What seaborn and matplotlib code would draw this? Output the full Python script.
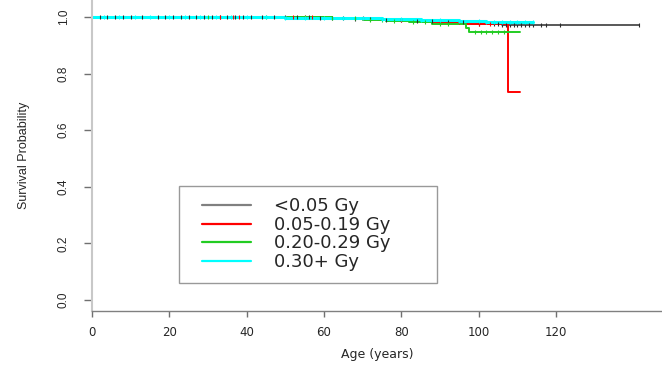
import numpy as np
import pandas as pd
import matplotlib
matplotlib.use("Agg")
import matplotlib.pyplot as plt
import seaborn as sns
from matplotlib.patches import Rectangle

# ---------------- data ----------------
groups = ["<0.05 Gy", "0.05-0.19 Gy", "0.20-0.29 Gy", "0.30+ Gy"]
colors = ["#2b2b2b", "#ff0000", "#22cc22", "#00ffff"]

# step curves: times (start, events..., end) and survival after each time
black_t = [0, 58, 66, 74, 82, 90, 98, 106, 141.5]
black_s = [1.0, 0.997, 0.994, 0.990, 0.986, 0.981, 0.977, 0.973, 0.973]
red_t = [0, 60, 75, 88, 97, 107.6, 110.7]
red_s = [1.0, 0.996, 0.990, 0.982, 0.974, 0.734, 0.734]
green_t = [0, 62, 70, 76, 82, 88, 96.8, 97.6, 110.7]
green_s = [1.0, 0.996, 0.990, 0.985, 0.981, 0.977, 0.962, 0.946, 0.946]
cyan_t = [0, 50, 65, 75, 85, 95, 102, 114]
cyan_s = [1.0, 0.998, 0.995, 0.992, 0.989, 0.986, 0.984, 0.984]

# censoring times
black_c = [2, 4, 6, 8, 10, 13, 17, 19, 21, 23, 25, 27, 29, 31, 33, 35, 37, 39,
           41, 44, 47, 50, 53, 56, 59, 62, 65, 68, 72, 76, 80, 84, 88, 92, 96,
           100, 104, 105, 106, 107, 108, 109, 110, 111, 112, 113, 114, 116,
           117.5, 121, 141.5]
red_c = [33, 36.5, 38, 52, 55, 57, 70, 80, 90, 95, 100, 103]
green_c = [30, 45, 55, 62, 68, 72, 75, 78, 83, 86, 90, 92,
           99, 100.5, 102, 103.5, 105, 106.5]
cyan_c = [3, 7, 11, 15, 20, 24, 28, 32, 36, 40, 45, 50, 55, 60, 65, 70, 75,
          80, 85, 90, 95, 100, 102, 104, 106, 108, 110, 112, 114]

x_ticks = [0, 20, 40, 60, 80, 100, 120]
y_ticks = [0.0, 0.2, 0.4, 0.6, 0.8, 1.0]

curves = [(black_t, black_s, black_c), (red_t, red_s, red_c),
          (green_t, green_s, green_c), (cyan_t, cyan_s, cyan_c)]

rows, crows = [], []
for g, (t, s, c) in zip(groups, curves):
    for ti, si in zip(t, s):
        rows.append({"age": ti, "surv": si, "group": g})
    t_arr, s_arr = np.array(t), np.array(s)
    for ci in c:
        idx = np.searchsorted(t_arr, ci, side="right") - 1
        crows.append({"age": ci, "surv": s_arr[idx], "group": g})
df = pd.DataFrame(rows)
cdf = pd.DataFrame(crows)

# ---------------- plot ----------------
sns.set_style("white")
plt.rcParams["font.family"] = ["DejaVu Sans"]
narrow = ["Liberation Sans Narrow", "Liberation Sans", "DejaVu Sans"]

fig = plt.figure(figsize=(6.62, 3.66), dpi=100)
ax = fig.add_axes([92 / 662, 55 / 366, 570 / 662, 311 / 366])

widths = [1.1, 1.4, 1.4, 2.2]
for g, col, lw in zip(groups, colors, widths):
    sub = df[df.group == g]
    sns.lineplot(data=sub, x="age", y="surv", ax=ax, color=col, lw=lw,
                 estimator=None, sort=False, drawstyle="steps-post", label=g)
    csub = cdf[cdf.group == g]
    ax.scatter(csub.age, csub.surv, marker="|", s=6, color=col,
               linewidths=0.8, zorder=3)

ax.set_xlim(0, 570 / 3.867)
ax.set_ylim(-11 / 283, 300 / 283)
ax.set_xticks(x_ticks)
ax.set_yticks(y_ticks)
ax.set_xticklabels([str(v) for v in x_ticks], fontsize=8.5)
ax.set_yticklabels([f"{v:.1f}" for v in y_ticks], family=narrow, fontsize=8.5,
                   rotation=90, va="center")

for sp in ["top", "right"]:
    ax.spines[sp].set_visible(False)
ax.spines["left"].set_color("#c8c8c8")
ax.spines["left"].set_linewidth(1.5)
ax.spines["bottom"].set_color("#808080")
ax.spines["bottom"].set_linewidth(1.0)

ax.tick_params(axis="y", direction="out", length=6, width=1,
               color="#707070", pad=10, left=True)
ax.tick_params(axis="x", direction="out", length=4.5, width=1,
               color="#707070", pad=6, bottom=True)

ax.set_xlabel("Age (years)", fontsize=9, labelpad=7)
ax.set_ylabel("Survival Probability", family=narrow, fontsize=9, labelpad=20)

# legend frame (box drawn separately so the entries can sit where they do)
ax.add_patch(Rectangle((0.1526, 0.0900), 0.4526, 0.3119, transform=ax.transAxes,
                       facecolor="white", edgecolor="#999999", lw=1.0,
                       zorder=4))
leg = ax.legend(loc="upper left", bbox_to_anchor=(0.193, 0.3656),
                fontsize=13, frameon=False, handlelength=2.7,
                handletextpad=1.28, labelspacing=0.03,
                borderpad=0, borderaxespad=0)
leg.set_zorder(5)
for h, col in zip(leg.get_lines(), ["#808080", "#ff0000", "#22cc22", "#00ffff"]):
    h.set_color(col)
    h.set_linewidth(1.6)

fig.savefig("out.png", dpi=100)
